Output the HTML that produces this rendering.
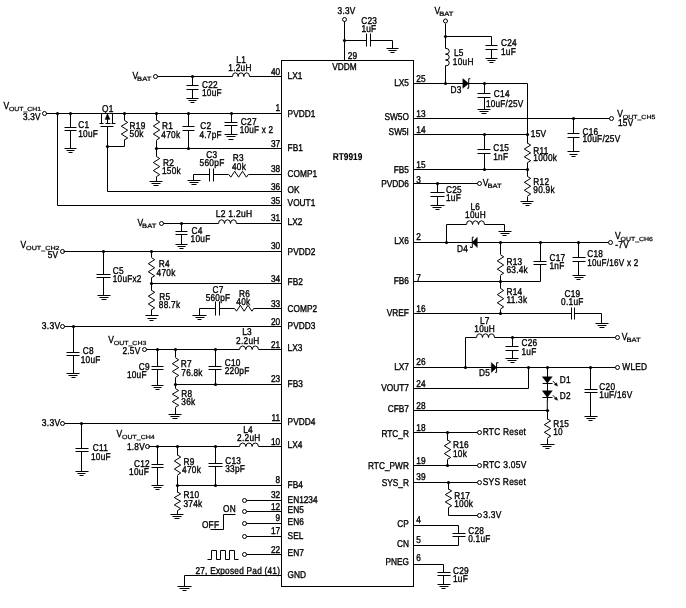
<!DOCTYPE html>
<html><head><meta charset="utf-8"><title>RT9919 Typical Application Circuit</title>
<style>
html,body{margin:0;padding:0;background:#fff}
svg{display:block;will-change:transform}
svg path{stroke:#000;fill:none;stroke-width:1}
svg .f{fill:#000;stroke:none}
svg path.f{fill:#000;stroke:#000;stroke-width:.4}
svg .t{fill:#fff;stroke:#000;stroke-width:1}
svg text{font-family:"Liberation Sans",sans-serif;font-size:8.3px;fill:#000;stroke:#000;stroke-width:.3px;text-rendering:geometricPrecision;letter-spacing:.25px}
svg text.b{font-weight:bold;letter-spacing:0;stroke-width:.1px}
svg text.i{letter-spacing:0}
</style></head><body>
<svg width="686" height="608" viewBox="0 0 686 608">
<rect x="0" y="0" width="686" height="608" fill="#fff"/>
<rect x="281.5" y="60.5" width="132.0" height="526.0" class="t"/>
<text transform="translate(287.6,78.8) scale(1,1.19)" class="i">LX1</text>
<text transform="translate(287.6,116.8) scale(1,1.19)" class="i">PVDD1</text>
<text transform="translate(287.6,150.8) scale(1,1.19)" class="i">FB1</text>
<text transform="translate(287.6,176.6) scale(1,1.19)" class="i">COMP1</text>
<text transform="translate(287.6,192.7) scale(1,1.19)" class="i">OK</text>
<text transform="translate(287.6,206.2) scale(1,1.19)" class="i">VOUT1</text>
<text transform="translate(287.6,224.8) scale(1,1.19)" class="i">LX2</text>
<text transform="translate(287.6,254.7) scale(1,1.19)" class="i">PVDD2</text>
<text transform="translate(287.6,284.6) scale(1,1.19)" class="i">FB2</text>
<text transform="translate(287.6,311.8) scale(1,1.19)" class="i">COMP2</text>
<text transform="translate(287.6,328.5) scale(1,1.19)" class="i">PVDD3</text>
<text transform="translate(287.6,351.4) scale(1,1.19)" class="i">LX3</text>
<text transform="translate(287.6,386.7) scale(1,1.19)" class="i">FB3</text>
<text transform="translate(287.6,425.4) scale(1,1.19)" class="i">PVDD4</text>
<text transform="translate(287.6,448.4) scale(1,1.19)" class="i">LX4</text>
<text transform="translate(287.6,488.3) scale(1,1.19)" class="i">FB4</text>
<text transform="translate(287.6,502.6) scale(1,1.19)" class="i">EN1234</text>
<text transform="translate(287.6,513.3) scale(1,1.19)" class="i">EN5</text>
<text transform="translate(287.6,525.2) scale(1,1.19)" class="i">EN6</text>
<text transform="translate(287.6,538.5) scale(1,1.19)" class="i">SEL</text>
<text transform="translate(287.6,556.4) scale(1,1.19)" class="i">EN7</text>
<text transform="translate(287.6,578.2) scale(1,1.19)" class="i">GND</text>
<text transform="translate(408.9,85.8) scale(1,1.19)" text-anchor="end" class="i">LX5</text>
<text transform="translate(408.9,120.4) scale(1,1.19)" text-anchor="end" class="i">SW5O</text>
<text transform="translate(408.9,135.3) scale(1,1.19)" text-anchor="end" class="i">SW5I</text>
<text transform="translate(408.9,172.9) scale(1,1.19)" text-anchor="end" class="i">FB5</text>
<text transform="translate(408.9,186.9) scale(1,1.19)" text-anchor="end" class="i">PVDD6</text>
<text transform="translate(408.9,243.7) scale(1,1.19)" text-anchor="end" class="i">LX6</text>
<text transform="translate(408.9,283.9) scale(1,1.19)" text-anchor="end" class="i">FB6</text>
<text transform="translate(408.9,315.9) scale(1,1.19)" text-anchor="end" class="i">VREF</text>
<text transform="translate(408.9,369.6) scale(1,1.19)" text-anchor="end" class="i">LX7</text>
<text transform="translate(408.9,390.8) scale(1,1.19)" text-anchor="end" class="i">VOUT7</text>
<text transform="translate(408.9,412.3) scale(1,1.19)" text-anchor="end" class="i">CFB7</text>
<text transform="translate(408.9,436.5) scale(1,1.19)" text-anchor="end" class="i">RTC_R</text>
<text transform="translate(408.9,469.2) scale(1,1.19)" text-anchor="end" class="i">RTC_PWR</text>
<text transform="translate(408.9,485.5) scale(1,1.19)" text-anchor="end" class="i">SYS_R</text>
<text transform="translate(408.9,527.3) scale(1,1.19)" text-anchor="end" class="i">CP</text>
<text transform="translate(408.9,547.4) scale(1,1.19)" text-anchor="end" class="i">CN</text>
<text transform="translate(408.9,565.4) scale(1,1.19)" text-anchor="end" class="i">PNEG</text>
<text transform="translate(347.5,159.7) scale(1,1.19)" text-anchor="middle" class="b">RT9919</text>
<text transform="translate(344.5,69.6) scale(1,1.19)" text-anchor="middle" class="i">VDDM</text>
<text transform="translate(280.2,75.0) scale(1,1.19)" text-anchor="end" class="i">40</text>
<text transform="translate(280.2,111.4) scale(1,1.19)" text-anchor="end" class="i">1</text>
<text transform="translate(280.2,146.8) scale(1,1.19)" text-anchor="end" class="i">37</text>
<text transform="translate(280.2,171.8) scale(1,1.19)" text-anchor="end" class="i">38</text>
<text transform="translate(280.2,189.7) scale(1,1.19)" text-anchor="end" class="i">36</text>
<text transform="translate(280.2,203.5) scale(1,1.19)" text-anchor="end" class="i">35</text>
<text transform="translate(280.2,220.7) scale(1,1.19)" text-anchor="end" class="i">31</text>
<text transform="translate(280.2,249.4) scale(1,1.19)" text-anchor="end" class="i">30</text>
<text transform="translate(280.2,281.5) scale(1,1.19)" text-anchor="end" class="i">34</text>
<text transform="translate(280.2,307.3) scale(1,1.19)" text-anchor="end" class="i">33</text>
<text transform="translate(280.2,324.6) scale(1,1.19)" text-anchor="end" class="i">20</text>
<text transform="translate(280.2,347.5) scale(1,1.19)" text-anchor="end" class="i">21</text>
<text transform="translate(280.2,382.1) scale(1,1.19)" text-anchor="end" class="i">23</text>
<text transform="translate(280.2,420.8) scale(1,1.19)" text-anchor="end" class="i">11</text>
<text transform="translate(280.2,444.8) scale(1,1.19)" text-anchor="end" class="i">10</text>
<text transform="translate(280.2,483.4) scale(1,1.19)" text-anchor="end" class="i">8</text>
<text transform="translate(280.2,498.0) scale(1,1.19)" text-anchor="end" class="i">32</text>
<text transform="translate(280.2,509.5) scale(1,1.19)" text-anchor="end" class="i">12</text>
<text transform="translate(280.2,521.2) scale(1,1.19)" text-anchor="end" class="i">9</text>
<text transform="translate(280.2,534.2) scale(1,1.19)" text-anchor="end" class="i">17</text>
<text transform="translate(280.2,552.8) scale(1,1.19)" text-anchor="end" class="i">22</text>
<text transform="translate(416.3,81.7) scale(1,1.19)" class="i">25</text>
<text transform="translate(416.3,116.8) scale(1,1.19)" class="i">13</text>
<text transform="translate(416.3,132.5) scale(1,1.19)" class="i">14</text>
<text transform="translate(416.3,167.6) scale(1,1.19)" class="i">15</text>
<text transform="translate(416.3,182.6) scale(1,1.19)" class="i">3</text>
<text transform="translate(416.3,239.7) scale(1,1.19)" class="i">2</text>
<text transform="translate(416.3,280.5) scale(1,1.19)" class="i">7</text>
<text transform="translate(416.3,311.6) scale(1,1.19)" class="i">16</text>
<text transform="translate(416.3,364.8) scale(1,1.19)" class="i">26</text>
<text transform="translate(416.3,386.8) scale(1,1.19)" class="i">24</text>
<text transform="translate(416.3,409.0) scale(1,1.19)" class="i">28</text>
<text transform="translate(416.3,431.0) scale(1,1.19)" class="i">18</text>
<text transform="translate(416.3,463.6) scale(1,1.19)" class="i">19</text>
<text transform="translate(416.3,479.6) scale(1,1.19)" class="i">39</text>
<text transform="translate(416.3,522.8) scale(1,1.19)" class="i">4</text>
<text transform="translate(416.3,543.3) scale(1,1.19)" class="i">5</text>
<text transform="translate(416.3,561.1) scale(1,1.19)" class="i">6</text>
<text transform="translate(347.8,58.7) scale(1,1.19)" class="i">29</text>
<text transform="translate(346.6,14.4) scale(1,1.19)" text-anchor="middle" textLength="18.0" lengthAdjust="spacingAndGlyphs">3.3V</text>
<circle cx="344.5" cy="19.5" r="2.0" class="t"/>
<path d="M344.5,21.5 L344.5,60.5" stroke-width="1"/>
<circle cx="344.5" cy="40.5" r="1.6" class="f"/>
<path d="M344.5,40.5 L366.5,40.5" stroke-width="1"/>
<path d="M366.5,33.5 L366.5,46.5" stroke-width="1"/>
<path d="M370.5,33.5 L370.5,46.5" stroke-width="1"/>
<path d="M370.5,40.5 L392.5,40.5 L392.5,48.5" stroke-width="1"/>
<path d="M386.5,48.5 L398.5,48.5" stroke-width="1"/>
<path d="M388.5,50.5 L396.5,50.5" stroke-width="1"/>
<path d="M390.5,52.5 L394.5,52.5" stroke-width="1"/>
<text transform="translate(369.2,23.9) scale(1,1.19)" text-anchor="middle">C23</text>
<text transform="translate(368.9,32.3) scale(1,1.19)" text-anchor="middle">1uF</text>
<circle cx="155.5" cy="76.5" r="2.0" class="t"/>
<path d="M157.5,76.5 L232.5,76.5" stroke-width="1"/>
<path d="M232.5,76.5 a2.83,3.7 0 0 1 5.67,0 a2.83,3.7 0 0 1 5.67,0 a2.83,3.7 0 0 1 5.67,0"/>
<path d="M249.5,76.5 L281.5,76.5" stroke-width="1"/>
<circle cx="192.5" cy="76.5" r="1.6" class="f"/>
<path d="M192.5,76.5 L192.5,85.5" stroke-width="1"/>
<path d="M186.5,85.5 L198.5,85.5" stroke-width="1"/>
<path d="M186.5,89.5 L198.5,89.5" stroke-width="1"/>
<path d="M192.5,89.5 L192.5,98.5" stroke-width="1"/>
<path d="M186.5,98.5 L198.5,98.5" stroke-width="1"/>
<path d="M188.5,100.5 L196.5,100.5" stroke-width="1"/>
<path d="M190.5,102.5 L194.5,102.5" stroke-width="1"/>
<text transform="translate(132.4,79.2) scale(1,1.19)" style="font-size:8.5px">V</text>
<text transform="translate(137.1,81.1)" style="font-size:6.3px;stroke-width:.22px;letter-spacing:0" textLength="14.2" lengthAdjust="spacingAndGlyphs">BAT</text>
<text transform="translate(241.2,63.2) scale(1,1.19)" text-anchor="middle">L1</text>
<text transform="translate(240.0,71.3) scale(1,1.19)" text-anchor="middle">1.2uH</text>
<text transform="translate(201.9,87.5) scale(1,1.19)">C22</text>
<text transform="translate(201.9,96.3) scale(1,1.19)">10uF</text>
<circle cx="44.5" cy="113.5" r="2.0" class="t"/>
<path d="M46.5,113.5 L281.5,113.5" stroke-width="1"/>
<circle cx="57.5" cy="113.5" r="1.6" class="f"/>
<circle cx="70.5" cy="113.5" r="1.6" class="f"/>
<circle cx="124.5" cy="113.5" r="1.6" class="f"/>
<circle cx="156.5" cy="113.5" r="1.6" class="f"/>
<circle cx="188.5" cy="113.5" r="1.6" class="f"/>
<circle cx="231.5" cy="113.5" r="1.6" class="f"/>
<path d="M57.5,113.5 L57.5,205.5 L281.5,205.5" stroke-width="1"/>
<path d="M70.5,113.5 L70.5,127.5" stroke-width="1"/>
<path d="M64.5,127.5 L76.5,127.5" stroke-width="1"/>
<path d="M64.5,130.5 L76.5,130.5" stroke-width="1"/>
<path d="M70.5,130.5 L70.5,148.5" stroke-width="1"/>
<path d="M64.5,148.5 L76.5,148.5" stroke-width="1"/>
<path d="M66.5,150.5 L74.5,150.5" stroke-width="1"/>
<path d="M68.5,152.5 L72.5,152.5" stroke-width="1"/>
<path d="M101.5,113.5 L101.5,123.5" stroke-width="1"/>
<path d="M112.5,113.5 L112.5,123.5" stroke-width="1"/>
<path d="M99.5,123.5 L103.5,123.5" stroke-width="1"/>
<path d="M105.5,123.5 L110.5,123.5" stroke-width="1"/>
<path d="M111.5,123.5 L115.5,123.5" stroke-width="1"/>
<path d="M107.5,113.5 L107.5,123.5" stroke-width="1"/>
<path d="M107.5,113.6 L105,119.4 L110,119.4 Z" class="f"/>
<path d="M100.5,126.5 L113.5,126.5" stroke-width="1"/>
<path d="M107.5,126.5 L107.5,191.5 L281.5,191.5" stroke-width="1"/>
<circle cx="107.5" cy="146.5" r="1.6" class="f"/>
<path d="M124.5,113.5 L124.5,120.5" stroke-width="1"/>
<path d="M124.5,120.4 L127.7,122.4 L121.3,126.2 L127.7,130.2 L121.3,134.1 L127.7,138.0 L124.5,139.9" stroke-width="1"/>
<path d="M124.5,139.5 L124.5,146.5 L107.5,146.5" stroke-width="1"/>
<path d="M156.5,113.5 L156.5,120.5" stroke-width="1"/>
<path d="M156.5,120.0 L159.7,122.0 L153.3,126.0 L159.7,130.0 L153.3,134.0 L159.7,138.0 L156.5,140.0" stroke-width="1"/>
<path d="M156.5,140.5 L156.5,156.5" stroke-width="1"/>
<path d="M156.5,156.5 L159.7,158.5 L153.3,162.5 L159.7,166.6 L153.3,170.6 L159.7,174.6 L156.5,176.6" stroke-width="1"/>
<path d="M156.5,176.5 L156.5,181.5" stroke-width="1"/>
<path d="M149.5,181.5 L162.5,181.5" stroke-width="1"/>
<path d="M151.5,183.5 L160.5,183.5" stroke-width="1"/>
<path d="M153.5,185.5 L158.5,185.5" stroke-width="1"/>
<circle cx="156.5" cy="148.5" r="1.6" class="f"/>
<circle cx="188.5" cy="148.5" r="1.6" class="f"/>
<path d="M156.5,148.5 L281.5,148.5" stroke-width="1"/>
<path d="M188.5,113.5 L188.5,126.5" stroke-width="1"/>
<path d="M182.5,126.5 L194.5,126.5" stroke-width="1"/>
<path d="M182.5,130.5 L194.5,130.5" stroke-width="1"/>
<path d="M188.5,130.5 L188.5,148.5" stroke-width="1"/>
<path d="M231.5,113.5 L231.5,122.5" stroke-width="1"/>
<path d="M224.5,122.5 L237.5,122.5" stroke-width="1"/>
<path d="M224.5,125.5 L237.5,125.5" stroke-width="1"/>
<path d="M231.5,125.5 L231.5,134.5" stroke-width="1"/>
<path d="M224.5,134.5 L237.5,134.5" stroke-width="1"/>
<path d="M226.5,136.5 L235.5,136.5" stroke-width="1"/>
<path d="M228.5,139.5 L233.5,139.5" stroke-width="1"/>
<text transform="translate(3.5,108.8) scale(1,1.19)" style="font-size:8.5px">V</text>
<text transform="translate(9.0,110.6)" style="font-size:5.9px;stroke-width:.22px;letter-spacing:0" textLength="32.0" lengthAdjust="spacingAndGlyphs">OUT_CH1</text>
<text transform="translate(40.8,120.0) scale(1,1.19)" text-anchor="end" textLength="17.9" lengthAdjust="spacingAndGlyphs">3.3V</text>
<text transform="translate(78.2,128.3) scale(1,1.19)">C1</text>
<text transform="translate(78.2,136.7) scale(1,1.19)">10uF</text>
<text transform="translate(102.0,111.6) scale(1,1.19)">Q1</text>
<text transform="translate(129.6,128.5) scale(1,1.19)">R19</text>
<text transform="translate(129.6,137.2) scale(1,1.19)">50k</text>
<text transform="translate(162.0,128.9) scale(1,1.19)">R1</text>
<text transform="translate(161.3,137.9) scale(1,1.19)">470k</text>
<text transform="translate(200.2,128.9) scale(1,1.19)">C2</text>
<text transform="translate(199.4,137.9) scale(1,1.19)">4.7pF</text>
<text transform="translate(240.8,125.4) scale(1,1.19)">C27</text>
<text transform="translate(239.8,133.0) scale(1,1.19)" textLength="33.6" lengthAdjust="spacingAndGlyphs">10uF x 2</text>
<text transform="translate(163.0,165.6) scale(1,1.19)">R2</text>
<text transform="translate(162.0,173.7) scale(1,1.19)">150k</text>
<path d="M281.5,174.5 L248.5,174.5" stroke-width="1"/>
<path d="M228.8,174.5 L230.8,177.2 L234.7,171.3 L238.6,177.2 L242.5,171.3 L246.4,177.2 L248.3,174.5" stroke-width="1"/>
<path d="M228.5,174.5 L213.5,174.5" stroke-width="1"/>
<path d="M209.5,168.5 L209.5,181.5" stroke-width="1"/>
<path d="M213.5,168.5 L213.5,181.5" stroke-width="1"/>
<path d="M209.5,174.5 L193.5,174.5 L193.5,180.5" stroke-width="1"/>
<path d="M187.5,180.5 L200.5,180.5" stroke-width="1"/>
<path d="M189.5,182.5 L198.5,182.5" stroke-width="1"/>
<path d="M191.5,184.5 L196.5,184.5" stroke-width="1"/>
<text transform="translate(211.7,157.6) scale(1,1.19)" text-anchor="middle">C3</text>
<text transform="translate(212.0,165.7) scale(1,1.19)" text-anchor="middle" textLength="25.0" lengthAdjust="spacingAndGlyphs">560pF</text>
<text transform="translate(238.4,160.7) scale(1,1.19)" text-anchor="middle">R3</text>
<text transform="translate(239.0,169.5) scale(1,1.19)" text-anchor="middle">40k</text>
<circle cx="161.5" cy="223.5" r="2.0" class="t"/>
<path d="M163.5,223.5 L218.5,223.5" stroke-width="1"/>
<path d="M218.5,223.5 a3.00,3.7 0 0 1 6.00,0 a3.00,3.7 0 0 1 6.00,0 a3.00,3.7 0 0 1 6.00,0"/>
<path d="M236.5,223.5 L281.5,223.5" stroke-width="1"/>
<circle cx="181.5" cy="223.5" r="1.6" class="f"/>
<path d="M181.5,223.5 L181.5,231.5" stroke-width="1"/>
<path d="M175.5,231.5 L187.5,231.5" stroke-width="1"/>
<path d="M175.5,234.5 L187.5,234.5" stroke-width="1"/>
<path d="M181.5,234.5 L181.5,244.5" stroke-width="1"/>
<path d="M175.5,244.5 L187.5,244.5" stroke-width="1"/>
<path d="M177.5,246.5 L185.5,246.5" stroke-width="1"/>
<path d="M179.5,248.5 L183.5,248.5" stroke-width="1"/>
<text transform="translate(137.4,225.9) scale(1,1.19)" style="font-size:8.5px">V</text>
<text transform="translate(142.1,227.8)" style="font-size:6.3px;stroke-width:.22px;letter-spacing:0" textLength="14.2" lengthAdjust="spacingAndGlyphs">BAT</text>
<text transform="translate(215.7,217.1) scale(1,1.19)" textLength="36.6" lengthAdjust="spacingAndGlyphs">L2 1.2uH</text>
<text transform="translate(191.4,234.0) scale(1,1.19)">C4</text>
<text transform="translate(190.6,242.4) scale(1,1.19)">10uF</text>
<circle cx="62.5" cy="251.5" r="2.0" class="t"/>
<path d="M63.5,251.5 L281.5,251.5" stroke-width="1"/>
<circle cx="103.5" cy="251.5" r="1.6" class="f"/>
<circle cx="151.5" cy="251.5" r="1.6" class="f"/>
<path d="M103.5,251.5 L103.5,274.5" stroke-width="1"/>
<path d="M96.5,274.5 L110.5,274.5" stroke-width="1"/>
<path d="M96.5,277.5 L110.5,277.5" stroke-width="1"/>
<path d="M103.5,277.5 L103.5,295.5" stroke-width="1"/>
<path d="M97.5,295.5 L110.5,295.5" stroke-width="1"/>
<path d="M99.5,297.5 L108.5,297.5" stroke-width="1"/>
<path d="M101.5,299.5 L106.5,299.5" stroke-width="1"/>
<path d="M151.5,251.5 L151.5,257.5" stroke-width="1"/>
<path d="M151.5,257.7 L154.7,259.7 L148.3,263.7 L154.7,267.8 L148.3,271.8 L154.7,275.8 L151.5,277.8" stroke-width="1"/>
<path d="M151.5,277.5 L151.5,290.5" stroke-width="1"/>
<path d="M151.5,290.3 L154.7,292.3 L148.3,296.2 L154.7,300.1 L148.3,304.0 L154.7,307.9 L151.5,309.9" stroke-width="1"/>
<path d="M151.5,309.5 L151.5,315.5" stroke-width="1"/>
<path d="M145.5,315.5 L158.5,315.5" stroke-width="1"/>
<path d="M147.5,318.5 L156.5,318.5" stroke-width="1"/>
<path d="M149.5,320.5 L153.5,320.5" stroke-width="1"/>
<circle cx="151.5" cy="283.5" r="1.6" class="f"/>
<path d="M151.5,283.5 L281.5,283.5" stroke-width="1"/>
<text transform="translate(20.6,247.7) scale(1,1.19)" style="font-size:8.5px">V</text>
<text transform="translate(26.1,249.5)" style="font-size:5.9px;stroke-width:.22px;letter-spacing:0" textLength="33.5" lengthAdjust="spacingAndGlyphs">OUT_CH2</text>
<text transform="translate(58.3,258.0) scale(1,1.19)" text-anchor="end">5V</text>
<text transform="translate(112.8,274.4) scale(1,1.19)">C5</text>
<text transform="translate(112.8,282.2) scale(1,1.19)" textLength="28.9" lengthAdjust="spacingAndGlyphs">10uFx2</text>
<text transform="translate(158.7,266.8) scale(1,1.19)">R4</text>
<text transform="translate(156.6,275.7) scale(1,1.19)">470k</text>
<text transform="translate(159.3,299.7) scale(1,1.19)">R5</text>
<text transform="translate(158.8,308.0) scale(1,1.19)">88.7k</text>
<path d="M281.5,308.5 L253.5,308.5" stroke-width="1"/>
<path d="M234.6,308.5 L236.5,311.2 L240.4,305.3 L244.2,311.2 L248.0,305.3 L251.9,311.2 L253.8,308.5" stroke-width="1"/>
<path d="M234.5,308.5 L219.5,308.5" stroke-width="1"/>
<path d="M215.5,301.5 L215.5,315.5" stroke-width="1"/>
<path d="M219.5,301.5 L219.5,315.5" stroke-width="1"/>
<path d="M215.5,308.5 L199.5,308.5 L199.5,315.5" stroke-width="1"/>
<path d="M192.5,315.5 L206.5,315.5" stroke-width="1"/>
<path d="M195.5,317.5 L204.5,317.5" stroke-width="1"/>
<path d="M197.5,319.5 L201.5,319.5" stroke-width="1"/>
<text transform="translate(218.1,292.8) scale(1,1.19)" text-anchor="middle">C7</text>
<text transform="translate(218.0,301.2) scale(1,1.19)" text-anchor="middle" textLength="24.6" lengthAdjust="spacingAndGlyphs">560pF</text>
<text transform="translate(244.6,296.6) scale(1,1.19)" text-anchor="middle">R6</text>
<text transform="translate(243.4,305.1) scale(1,1.19)" text-anchor="middle">40k</text>
<circle cx="62.5" cy="326.5" r="2.0" class="t"/>
<path d="M64.5,326.5 L281.5,326.5" stroke-width="1"/>
<circle cx="73.5" cy="326.5" r="1.6" class="f"/>
<path d="M73.5,326.5 L73.5,352.5" stroke-width="1"/>
<path d="M66.5,352.5 L79.5,352.5" stroke-width="1"/>
<path d="M66.5,355.5 L79.5,355.5" stroke-width="1"/>
<path d="M73.5,355.5 L73.5,373.5" stroke-width="1"/>
<path d="M66.5,373.5 L79.5,373.5" stroke-width="1"/>
<path d="M68.5,375.5 L77.5,375.5" stroke-width="1"/>
<path d="M71.5,377.5 L75.5,377.5" stroke-width="1"/>
<text transform="translate(60.4,328.5) scale(1,1.19)" text-anchor="end" textLength="18.6" lengthAdjust="spacingAndGlyphs">3.3V</text>
<text transform="translate(82.7,354.0) scale(1,1.19)">C8</text>
<text transform="translate(80.7,362.7) scale(1,1.19)">10uF</text>
<circle cx="144.5" cy="349.5" r="2.0" class="t"/>
<path d="M146.5,349.5 L239.5,349.5" stroke-width="1"/>
<path d="M239.5,349.5 a3.17,3.7 0 0 1 6.33,0 a3.17,3.7 0 0 1 6.33,0 a3.17,3.7 0 0 1 6.33,0"/>
<path d="M258.5,349.5 L281.5,349.5" stroke-width="1"/>
<circle cx="157.5" cy="349.5" r="1.6" class="f"/>
<circle cx="175.5" cy="349.5" r="1.6" class="f"/>
<circle cx="215.5" cy="349.5" r="1.6" class="f"/>
<path d="M157.5,349.5 L157.5,366.5" stroke-width="1"/>
<path d="M151.5,366.5 L163.5,366.5" stroke-width="1"/>
<path d="M151.5,369.5 L163.5,369.5" stroke-width="1"/>
<path d="M157.5,369.5 L157.5,385.5" stroke-width="1"/>
<path d="M151.5,385.5 L163.5,385.5" stroke-width="1"/>
<path d="M153.5,387.5 L161.5,387.5" stroke-width="1"/>
<path d="M155.5,389.5 L159.5,389.5" stroke-width="1"/>
<path d="M175.5,349.5 L175.5,357.5" stroke-width="1"/>
<path d="M175.5,357.8 L178.7,359.8 L172.3,363.7 L178.7,367.6 L172.3,371.5 L178.7,375.4 L175.5,377.4" stroke-width="1"/>
<path d="M175.5,377.5 L175.5,388.5" stroke-width="1"/>
<path d="M175.5,388.6 L178.7,390.5 L172.3,394.2 L178.7,397.9 L172.3,401.6 L178.7,405.3 L175.5,407.2" stroke-width="1"/>
<path d="M175.5,407.5 L175.5,414.5" stroke-width="1"/>
<path d="M168.5,414.5 L181.5,414.5" stroke-width="1"/>
<path d="M170.5,416.5 L179.5,416.5" stroke-width="1"/>
<path d="M172.5,418.5 L177.5,418.5" stroke-width="1"/>
<circle cx="175.5" cy="384.5" r="1.6" class="f"/>
<circle cx="215.5" cy="384.5" r="1.6" class="f"/>
<path d="M175.5,384.5 L281.5,384.5" stroke-width="1"/>
<path d="M215.5,349.5 L215.5,366.5" stroke-width="1"/>
<path d="M208.5,366.5 L221.5,366.5" stroke-width="1"/>
<path d="M208.5,369.5 L221.5,369.5" stroke-width="1"/>
<path d="M215.5,369.5 L215.5,384.5" stroke-width="1"/>
<text transform="translate(108.3,343.1) scale(1,1.19)" style="font-size:8.5px">V</text>
<text transform="translate(113.8,344.9)" style="font-size:5.9px;stroke-width:.22px;letter-spacing:0" textLength="32.5" lengthAdjust="spacingAndGlyphs">OUT_CH3</text>
<text transform="translate(140.5,353.5) scale(1,1.19)" text-anchor="end">2.5V</text>
<text transform="translate(149.8,369.9) scale(1,1.19)" text-anchor="end">C9</text>
<text transform="translate(146.8,378.1) scale(1,1.19)" text-anchor="end">10uF</text>
<text transform="translate(180.8,367.3) scale(1,1.19)">R7</text>
<text transform="translate(181.3,376.1) scale(1,1.19)" textLength="21.4" lengthAdjust="spacingAndGlyphs">76.8k</text>
<text transform="translate(224.7,365.8) scale(1,1.19)">C10</text>
<text transform="translate(224.7,374.1) scale(1,1.19)">220pF</text>
<text transform="translate(181.3,397.1) scale(1,1.19)">R8</text>
<text transform="translate(181.3,405.4) scale(1,1.19)">36k</text>
<text transform="translate(247.0,335.2) scale(1,1.19)" text-anchor="middle">L3</text>
<text transform="translate(247.8,343.8) scale(1,1.19)" text-anchor="middle">2.2uH</text>
<circle cx="62.5" cy="423.5" r="2.0" class="t"/>
<path d="M64.5,423.5 L281.5,423.5" stroke-width="1"/>
<circle cx="81.5" cy="423.5" r="1.6" class="f"/>
<path d="M81.5,423.5 L81.5,448.5" stroke-width="1"/>
<path d="M75.5,448.5 L88.5,448.5" stroke-width="1"/>
<path d="M75.5,451.5 L88.5,451.5" stroke-width="1"/>
<path d="M81.5,451.5 L81.5,471.5" stroke-width="1"/>
<path d="M75.5,471.5 L88.5,471.5" stroke-width="1"/>
<path d="M77.5,473.5 L85.5,473.5" stroke-width="1"/>
<path d="M79.5,475.5 L83.5,475.5" stroke-width="1"/>
<text transform="translate(60.4,425.6) scale(1,1.19)" text-anchor="end" textLength="18.6" lengthAdjust="spacingAndGlyphs">3.3V</text>
<text transform="translate(92.8,451.0) scale(1,1.19)">C11</text>
<text transform="translate(91.0,459.8) scale(1,1.19)">10uF</text>
<circle cx="147.5" cy="446.5" r="2.0" class="t"/>
<path d="M148.5,446.5 L239.5,446.5" stroke-width="1"/>
<path d="M239.5,446.5 a3.17,3.7 0 0 1 6.33,0 a3.17,3.7 0 0 1 6.33,0 a3.17,3.7 0 0 1 6.33,0"/>
<path d="M258.5,446.5 L281.5,446.5" stroke-width="1"/>
<circle cx="157.5" cy="446.5" r="1.6" class="f"/>
<circle cx="177.5" cy="446.5" r="1.6" class="f"/>
<circle cx="215.5" cy="446.5" r="1.6" class="f"/>
<path d="M157.5,446.5 L157.5,464.5" stroke-width="1"/>
<path d="M151.5,464.5 L163.5,464.5" stroke-width="1"/>
<path d="M151.5,467.5 L163.5,467.5" stroke-width="1"/>
<path d="M157.5,467.5 L157.5,485.5" stroke-width="1"/>
<path d="M151.5,485.5 L163.5,485.5" stroke-width="1"/>
<path d="M153.5,487.5 L161.5,487.5" stroke-width="1"/>
<path d="M155.5,489.5 L159.5,489.5" stroke-width="1"/>
<path d="M177.5,446.5 L177.5,455.5" stroke-width="1"/>
<path d="M177.5,455.0 L180.7,457.0 L174.3,461.0 L180.7,465.0 L174.3,469.0 L180.7,473.0 L177.5,475.0" stroke-width="1"/>
<path d="M177.5,475.5 L177.5,492.5" stroke-width="1"/>
<path d="M177.5,492.0 L180.7,493.9 L174.3,497.6 L180.7,501.2 L174.3,504.9 L180.7,508.6 L177.5,510.5" stroke-width="1"/>
<path d="M177.5,510.5 L177.5,514.5" stroke-width="1"/>
<path d="M170.5,514.5 L183.5,514.5" stroke-width="1"/>
<path d="M172.5,516.5 L181.5,516.5" stroke-width="1"/>
<path d="M174.5,518.5 L179.5,518.5" stroke-width="1"/>
<circle cx="177.5" cy="485.5" r="1.6" class="f"/>
<circle cx="215.5" cy="485.5" r="1.6" class="f"/>
<path d="M177.5,485.5 L281.5,485.5" stroke-width="1"/>
<path d="M215.5,446.5 L215.5,463.5" stroke-width="1"/>
<path d="M208.5,463.5 L222.5,463.5" stroke-width="1"/>
<path d="M208.5,466.5 L222.5,466.5" stroke-width="1"/>
<path d="M215.5,466.5 L215.5,485.5" stroke-width="1"/>
<text transform="translate(116.6,437.4) scale(1,1.19)" style="font-size:8.5px">V</text>
<text transform="translate(122.1,439.2)" style="font-size:5.9px;stroke-width:.22px;letter-spacing:0" textLength="32.5" lengthAdjust="spacingAndGlyphs">OUT_CH4</text>
<text transform="translate(145.0,450.3) scale(1,1.19)" text-anchor="end">1.8V</text>
<text transform="translate(150.0,467.4) scale(1,1.19)" text-anchor="end">C12</text>
<text transform="translate(149.0,475.3) scale(1,1.19)" text-anchor="end">10uF</text>
<text transform="translate(183.4,465.3) scale(1,1.19)">R9</text>
<text transform="translate(182.1,473.3) scale(1,1.19)">470k</text>
<text transform="translate(225.2,463.8) scale(1,1.19)">C13</text>
<text transform="translate(225.2,472.3) scale(1,1.19)">33pF</text>
<text transform="translate(183.4,498.4) scale(1,1.19)">R10</text>
<text transform="translate(183.4,506.7) scale(1,1.19)">374k</text>
<text transform="translate(248.0,432.9) scale(1,1.19)" text-anchor="middle">L4</text>
<text transform="translate(248.8,441.2) scale(1,1.19)" text-anchor="middle">2.2uH</text>
<circle cx="244.5" cy="500.5" r="2.0" class="t"/>
<path d="M246.5,500.5 L281.5,500.5" stroke-width="1"/>
<circle cx="244.5" cy="511.5" r="2.0" class="t"/>
<path d="M246.5,511.5 L281.5,511.5" stroke-width="1"/>
<circle cx="244.5" cy="523.5" r="2.0" class="t"/>
<path d="M246.5,523.5 L281.5,523.5" stroke-width="1"/>
<circle cx="244.5" cy="536.5" r="2.0" class="t"/>
<path d="M246.5,536.5 L281.5,536.5" stroke-width="1"/>
<circle cx="244.5" cy="554.5" r="2.0" class="t"/>
<path d="M246.5,554.5 L281.5,554.5" stroke-width="1"/>
<path d="M210.5,529.5 L223.5,529.5 L223.5,514.5 L235.5,514.5" stroke-width="1"/>
<text transform="translate(223.0,512.4) scale(1,1.19)">ON</text>
<text transform="translate(201.9,527.7) scale(1,1.19)">OFF</text>
<path d="M207.5,559.5 L211.5,559.5 L211.5,550.5 L216.5,550.5 L216.5,559.5 L220.5,559.5 L220.5,550.5 L225.5,550.5 L225.5,559.5 L229.5,559.5 L229.5,550.5 L234.5,550.5 L234.5,559.5 L238.5,559.5" stroke-width="1"/>
<path d="M281.5,575.5 L184.5,575.5 L184.5,586.5" stroke-width="1"/>
<path d="M177.5,586.5 L191.5,586.5" stroke-width="1"/>
<path d="M179.5,588.5 L189.5,588.5" stroke-width="1"/>
<path d="M182.5,590.5 L186.5,590.5" stroke-width="1"/>
<text transform="translate(195.4,573.8) scale(1,1.19)" textLength="84.8" lengthAdjust="spacingAndGlyphs">27, Exposed Pad (41)</text>
<text transform="translate(434.6,14.4) scale(1,1.19)" style="font-size:8.5px">V</text>
<text transform="translate(439.3,16.3)" style="font-size:6.3px;stroke-width:.22px;letter-spacing:0" textLength="14.2" lengthAdjust="spacingAndGlyphs">BAT</text>
<circle cx="445.5" cy="21.0" r="2.0" class="t"/>
<path d="M445.5,23.5 L445.5,48.5" stroke-width="1"/>
<path d="M445.5,48.3 a3.8,2.93 0 0 1 0,5.87 a3.8,2.93 0 0 1 0,5.87 a3.8,2.93 0 0 1 0,5.87"/>
<path d="M445.5,65.5 L445.5,83.5" stroke-width="1"/>
<circle cx="445.5" cy="36.5" r="1.6" class="f"/>
<path d="M445.5,36.5 L491.5,36.5 L491.5,45.5" stroke-width="1"/>
<path d="M485.5,45.5 L497.5,45.5" stroke-width="1"/>
<path d="M485.5,49.5 L497.5,49.5" stroke-width="1"/>
<path d="M491.5,49.5 L491.5,58.5" stroke-width="1"/>
<path d="M485.5,58.5 L497.5,58.5" stroke-width="1"/>
<path d="M487.5,60.5 L495.5,60.5" stroke-width="1"/>
<path d="M489.5,62.5 L493.5,62.5" stroke-width="1"/>
<text transform="translate(501.0,45.6) scale(1,1.19)">C24</text>
<text transform="translate(501.0,54.7) scale(1,1.19)">1uF</text>
<text transform="translate(454.0,55.9) scale(1,1.19)">L5</text>
<text transform="translate(452.8,64.7) scale(1,1.19)">10uH</text>
<path d="M413.5,83.5 L527.5,83.5 L527.5,143.5" stroke-width="1"/>
<circle cx="445.5" cy="83.5" r="1.6" class="f"/>
<circle cx="484.5" cy="83.5" r="1.6" class="f"/>
<path d="M462.8,78.6 L462.8,88.3 L468.8,83.5 Z" class="f"/>
<path d="M467.0,88.2 L468.7,88.2 L468.7,78.7 L470.3,78.7" stroke-width="1.1"/>
<text transform="translate(450.6,92.8) scale(1,1.19)">D3</text>
<path d="M484.5,83.5 L484.5,93.5" stroke-width="1"/>
<path d="M477.5,93.5 L490.5,93.5" stroke-width="1"/>
<path d="M477.5,97.5 L490.5,97.5" stroke-width="1"/>
<path d="M484.5,97.5 L484.5,109.5" stroke-width="1"/>
<path d="M477.5,109.5 L490.5,109.5" stroke-width="1"/>
<path d="M479.5,111.5 L488.5,111.5" stroke-width="1"/>
<path d="M481.5,113.5 L486.5,113.5" stroke-width="1"/>
<text transform="translate(493.8,97.3) scale(1,1.19)">C14</text>
<text transform="translate(485.9,107.1) scale(1,1.19)" textLength="37.6" lengthAdjust="spacingAndGlyphs">10uF/25V</text>
<path d="M413.5,118.5 L609.5,118.5" stroke-width="1"/>
<circle cx="611.5" cy="118.5" r="2.0" class="t"/>
<circle cx="573.5" cy="118.5" r="1.6" class="f"/>
<path d="M573.5,118.5 L573.5,133.5" stroke-width="1"/>
<path d="M567.5,133.5 L579.5,133.5" stroke-width="1"/>
<path d="M567.5,137.5 L579.5,137.5" stroke-width="1"/>
<path d="M573.5,137.5 L573.5,151.5" stroke-width="1"/>
<path d="M567.5,151.5 L579.5,151.5" stroke-width="1"/>
<path d="M569.5,154.5 L577.5,154.5" stroke-width="1"/>
<path d="M571.5,156.5 L575.5,156.5" stroke-width="1"/>
<text transform="translate(582.5,134.5) scale(1,1.19)">C16</text>
<text transform="translate(582.5,141.8) scale(1,1.19)" textLength="38.0" lengthAdjust="spacingAndGlyphs">10uF/25V</text>
<text transform="translate(617.3,116.8) scale(1,1.19)" style="font-size:8.5px">V</text>
<text transform="translate(622.8,118.6)" style="font-size:5.9px;stroke-width:.22px;letter-spacing:0" textLength="32.5" lengthAdjust="spacingAndGlyphs">OUT_CH5</text>
<text transform="translate(618.0,125.9) scale(1,1.19)">15V</text>
<path d="M413.5,134.5 L527.5,134.5" stroke-width="1"/>
<circle cx="484.5" cy="134.5" r="1.6" class="f"/>
<circle cx="527.5" cy="134.5" r="1.6" class="f"/>
<text transform="translate(530.8,137.2) scale(1,1.19)">15V</text>
<path d="M484.5,134.5 L484.5,149.5" stroke-width="1"/>
<path d="M477.5,149.5 L490.5,149.5" stroke-width="1"/>
<path d="M477.5,153.5 L490.5,153.5" stroke-width="1"/>
<path d="M484.5,153.5 L484.5,169.5" stroke-width="1"/>
<circle cx="484.5" cy="169.5" r="1.6" class="f"/>
<text transform="translate(493.2,151.3) scale(1,1.19)">C15</text>
<text transform="translate(493.2,160.4) scale(1,1.19)">1nF</text>
<path d="M527.5,143.1 L530.7,145.1 L524.3,149.0 L530.7,152.9 L524.3,156.8 L530.7,160.7 L527.5,162.7" stroke-width="1"/>
<path d="M527.5,162.5 L527.5,176.5" stroke-width="1"/>
<path d="M527.5,176.5 L530.7,178.4 L524.3,182.3 L530.7,186.2 L524.3,190.2 L530.7,194.1 L527.5,196.0" stroke-width="1"/>
<path d="M527.5,196.5 L527.5,201.5" stroke-width="1"/>
<path d="M520.5,201.5 L533.5,201.5" stroke-width="1"/>
<path d="M522.5,203.5 L531.5,203.5" stroke-width="1"/>
<path d="M525.5,205.5 L529.5,205.5" stroke-width="1"/>
<circle cx="527.5" cy="169.5" r="1.6" class="f"/>
<path d="M413.5,169.5 L527.5,169.5" stroke-width="1"/>
<text transform="translate(533.3,153.7) scale(1,1.19)">R11</text>
<text transform="translate(533.3,161.3) scale(1,1.19)">1000k</text>
<text transform="translate(533.3,184.5) scale(1,1.19)">R12</text>
<text transform="translate(533.3,192.5) scale(1,1.19)">90.9k</text>
<path d="M413.5,183.5 L477.5,183.5" stroke-width="1"/>
<circle cx="479.5" cy="183.5" r="2.0" class="t"/>
<circle cx="437.5" cy="183.5" r="1.6" class="f"/>
<path d="M437.5,183.5 L437.5,192.5" stroke-width="1"/>
<path d="M430.5,192.5 L444.5,192.5" stroke-width="1"/>
<path d="M430.5,196.5 L444.5,196.5" stroke-width="1"/>
<path d="M437.5,196.5 L437.5,205.5" stroke-width="1"/>
<path d="M430.5,205.5 L444.5,205.5" stroke-width="1"/>
<path d="M432.5,207.5 L441.5,207.5" stroke-width="1"/>
<path d="M435.5,209.5 L439.5,209.5" stroke-width="1"/>
<text transform="translate(445.9,192.8) scale(1,1.19)">C25</text>
<text transform="translate(445.9,201.3) scale(1,1.19)">1uF</text>
<text transform="translate(482.7,185.8) scale(1,1.19)" style="font-size:8.5px">V</text>
<text transform="translate(487.4,187.7)" style="font-size:6.3px;stroke-width:.22px;letter-spacing:0" textLength="14.2" lengthAdjust="spacingAndGlyphs">BAT</text>
<path d="M413.5,242.5 L608.5,242.5" stroke-width="1"/>
<circle cx="610.5" cy="242.5" r="2.0" class="t"/>
<circle cx="446.5" cy="242.5" r="1.6" class="f"/>
<circle cx="500.5" cy="242.5" r="1.6" class="f"/>
<circle cx="540.5" cy="242.5" r="1.6" class="f"/>
<circle cx="578.5" cy="242.5" r="1.6" class="f"/>
<path d="M446.5,242.5 L446.5,224.5 L466.5,224.5" stroke-width="1"/>
<path d="M466.5,224.5 a3.00,3.7 0 0 1 6.00,0 a3.00,3.7 0 0 1 6.00,0 a3.00,3.7 0 0 1 6.00,0"/>
<path d="M484.5,224.5 L504.5,224.5 L504.5,231.5" stroke-width="1"/>
<path d="M498.5,231.5 L511.5,231.5" stroke-width="1"/>
<path d="M500.5,233.5 L509.5,233.5" stroke-width="1"/>
<path d="M502.5,235.5 L506.5,235.5" stroke-width="1"/>
<text transform="translate(475.3,209.7) scale(1,1.19)" text-anchor="middle">L6</text>
<text transform="translate(475.5,218.2) scale(1,1.19)" text-anchor="middle">10uH</text>
<path d="M477.3,237.3 L477.3,247.5 L472,242.4 Z" class="f"/>
<path d="M473.8,237.2 L472.3,237.2 L472.3,247.5 L470.4,247.5 L470.4,246.4" stroke-width="1.1"/>
<text transform="translate(457.0,251.7) scale(1,1.19)">D4</text>
<path d="M500.5,242.5 L500.5,254.5" stroke-width="1"/>
<path d="M500.5,254.8 L503.7,256.8 L497.3,260.9 L503.7,265.0 L497.3,269.1 L503.7,273.2 L500.5,275.2" stroke-width="1"/>
<path d="M500.5,275.5 L500.5,288.5" stroke-width="1"/>
<path d="M500.5,288.4 L503.7,290.5 L497.3,294.6 L503.7,298.7 L497.3,302.8 L503.7,306.9 L500.5,309.0" stroke-width="1"/>
<path d="M500.5,309.5 L500.5,313.5" stroke-width="1"/>
<circle cx="500.5" cy="281.5" r="1.6" class="f"/>
<circle cx="500.5" cy="313.5" r="1.6" class="f"/>
<path d="M413.5,281.5 L540.5,281.5 L540.5,264.5" stroke-width="1"/>
<path d="M533.5,261.5 L546.5,261.5" stroke-width="1"/>
<path d="M533.5,264.5 L546.5,264.5" stroke-width="1"/>
<path d="M540.5,242.5 L540.5,261.5" stroke-width="1"/>
<text transform="translate(506.4,264.8) scale(1,1.19)">R13</text>
<text transform="translate(506.4,273.0) scale(1,1.19)">63.4k</text>
<text transform="translate(549.5,261.3) scale(1,1.19)">C17</text>
<text transform="translate(549.5,268.7) scale(1,1.19)">1nF</text>
<text transform="translate(506.4,294.9) scale(1,1.19)">R14</text>
<text transform="translate(506.4,303.2) scale(1,1.19)">11.3k</text>
<path d="M578.5,242.5 L578.5,257.5" stroke-width="1"/>
<path d="M572.5,257.5 L585.5,257.5" stroke-width="1"/>
<path d="M572.5,261.5 L585.5,261.5" stroke-width="1"/>
<path d="M578.5,261.5 L578.5,275.5" stroke-width="1"/>
<path d="M572.5,275.5 L585.5,275.5" stroke-width="1"/>
<path d="M574.5,277.5 L583.5,277.5" stroke-width="1"/>
<path d="M576.5,279.5 L580.5,279.5" stroke-width="1"/>
<text transform="translate(587.2,256.8) scale(1,1.19)">C18</text>
<text transform="translate(587.2,266.0) scale(1,1.19)" textLength="51.4" lengthAdjust="spacingAndGlyphs">10uF/16V x 2</text>
<text transform="translate(615.0,238.8) scale(1,1.19)" style="font-size:8.5px">V</text>
<text transform="translate(620.5,240.6)" style="font-size:5.9px;stroke-width:.22px;letter-spacing:0" textLength="32.5" lengthAdjust="spacingAndGlyphs">OUT_CH6</text>
<text transform="translate(615.3,248.4) scale(1,1.19)">-7V</text>
<path d="M413.5,313.5 L571.5,313.5" stroke-width="1"/>
<path d="M571.5,307.5 L571.5,319.5" stroke-width="1"/>
<path d="M574.5,307.5 L574.5,319.5" stroke-width="1"/>
<path d="M574.5,313.5 L601.5,313.5 L601.5,323.5" stroke-width="1"/>
<path d="M595.5,323.5 L608.5,323.5" stroke-width="1"/>
<path d="M597.5,325.5 L606.5,325.5" stroke-width="1"/>
<path d="M599.5,327.5 L604.5,327.5" stroke-width="1"/>
<text transform="translate(572.5,296.5) scale(1,1.19)" text-anchor="middle">C19</text>
<text transform="translate(572.4,304.5) scale(1,1.19)" text-anchor="middle" textLength="22.6" lengthAdjust="spacingAndGlyphs">0.1uF</text>
<path d="M413.5,367.5 L615.5,367.5" stroke-width="1"/>
<circle cx="617.5" cy="367.5" r="2.0" class="t"/>
<circle cx="465.5" cy="367.5" r="1.6" class="f"/>
<circle cx="528.5" cy="367.5" r="1.6" class="f"/>
<circle cx="547.5" cy="367.5" r="1.6" class="f"/>
<circle cx="590.5" cy="367.5" r="1.6" class="f"/>
<path d="M465.5,367.5 L465.5,337.5 L476.5,337.5" stroke-width="1"/>
<path d="M476.5,337.5 a3.00,3.7 0 0 1 6.00,0 a3.00,3.7 0 0 1 6.00,0 a3.00,3.7 0 0 1 6.00,0"/>
<path d="M494.5,337.5 L615.5,337.5" stroke-width="1"/>
<circle cx="617.5" cy="337.5" r="2.0" class="t"/>
<circle cx="512.5" cy="337.5" r="1.6" class="f"/>
<path d="M512.5,337.5 L512.5,346.5" stroke-width="1"/>
<path d="M505.5,346.5 L518.5,346.5" stroke-width="1"/>
<path d="M505.5,350.5 L518.5,350.5" stroke-width="1"/>
<path d="M512.5,350.5 L512.5,358.5" stroke-width="1"/>
<path d="M505.5,358.5 L518.5,358.5" stroke-width="1"/>
<path d="M507.5,360.5 L516.5,360.5" stroke-width="1"/>
<path d="M510.5,362.5 L514.5,362.5" stroke-width="1"/>
<text transform="translate(521.4,346.4) scale(1,1.19)">C26</text>
<text transform="translate(521.4,354.6) scale(1,1.19)">1uF</text>
<text transform="translate(484.8,323.6) scale(1,1.19)" text-anchor="middle">L7</text>
<text transform="translate(484.7,332.2) scale(1,1.19)" text-anchor="middle">10uH</text>
<text transform="translate(621.8,340.4) scale(1,1.19)" style="font-size:8.5px">V</text>
<text transform="translate(626.5,342.3)" style="font-size:6.3px;stroke-width:.22px;letter-spacing:0" textLength="14.2" lengthAdjust="spacingAndGlyphs">BAT</text>
<text transform="translate(622.3,369.6) scale(1,1.19)">WLED</text>
<path d="M491.3,362.6 L491.3,372.4 L496.8,367.5 Z" class="f"/>
<path d="M495.0,372.3 L496.6,372.3 L496.6,362.7 L498.5,362.7" stroke-width="1.1"/>
<text transform="translate(479.0,375.7) scale(1,1.19)">D5</text>
<path d="M528.5,367.5 L528.5,388.5 L413.5,388.5" stroke-width="1"/>
<path d="M547.5,367.5 L547.5,400.5" stroke-width="1"/>
<path d="M542.3,376.7 L552.3,376.7 L547.3,383.2 Z" class="f"/>
<path d="M542.5,383.5 L552.5,383.5" stroke-width="1"/>
<path d="M542.3,390.7 L552.3,390.7 L547.3,397.4 Z" class="f"/>
<path d="M542.5,397.5 L552.5,397.5" stroke-width="1"/>
<path d="M547.3,399.5 L547.3,410.4" stroke-width="2.5"/>
<path d="M552.9,381.1 L556.3,384.7" stroke-width="1.3"/>
<path d="M557.7,386.1 l-3.4,-1.3 l2.1,-2.1 Z" class="f"/>
<path d="M552.9,395.3 L556.3,398.9" stroke-width="1.3"/>
<path d="M557.7,400.3 l-3.4,-1.3 l2.1,-2.1 Z" class="f"/>
<text transform="translate(559.8,382.8) scale(1,1.19)">D1</text>
<text transform="translate(559.8,398.9) scale(1,1.19)">D2</text>
<circle cx="547.5" cy="410.5" r="1.6" class="f"/>
<path d="M413.5,410.5 L547.5,410.5 L547.5,419.5" stroke-width="1"/>
<path d="M547.5,419.0 L550.7,420.9 L544.3,424.7 L550.7,428.5 L544.3,432.3 L550.7,436.1 L547.5,438.0" stroke-width="1"/>
<path d="M547.5,438.5 L547.5,444.5" stroke-width="1"/>
<path d="M540.5,444.5 L554.5,444.5" stroke-width="1"/>
<path d="M542.5,446.5 L551.5,446.5" stroke-width="1"/>
<path d="M545.5,448.5 L549.5,448.5" stroke-width="1"/>
<text transform="translate(553.2,426.6) scale(1,1.19)">R15</text>
<text transform="translate(553.2,435.1) scale(1,1.19)">10</text>
<path d="M590.5,367.5 L590.5,389.5" stroke-width="1"/>
<path d="M584.5,389.5 L597.5,389.5" stroke-width="1"/>
<path d="M584.5,392.5 L597.5,392.5" stroke-width="1"/>
<path d="M590.5,392.5 L590.5,416.5" stroke-width="1"/>
<path d="M584.5,416.5 L597.5,416.5" stroke-width="1"/>
<path d="M586.5,418.5 L595.5,418.5" stroke-width="1"/>
<path d="M588.5,420.5 L592.5,420.5" stroke-width="1"/>
<text transform="translate(599.3,390.0) scale(1,1.19)">C20</text>
<text transform="translate(599.3,398.1) scale(1,1.19)">1uF/16V</text>
<path d="M413.5,432.5 L477.5,432.5" stroke-width="1"/>
<circle cx="479.5" cy="432.5" r="2.0" class="t"/>
<circle cx="447.5" cy="432.5" r="1.6" class="f"/>
<path d="M413.5,465.5 L477.5,465.5" stroke-width="1"/>
<circle cx="479.5" cy="465.5" r="2.0" class="t"/>
<circle cx="447.5" cy="465.5" r="1.6" class="f"/>
<path d="M447.5,432.5 L447.5,440.5" stroke-width="1"/>
<path d="M447.5,440.0 L450.7,441.9 L444.3,445.8 L450.7,449.7 L444.3,453.6 L450.7,457.5 L447.5,459.4" stroke-width="1"/>
<path d="M447.5,459.5 L447.5,465.5" stroke-width="1"/>
<text transform="translate(452.9,448.4) scale(1,1.19)">R16</text>
<text transform="translate(452.9,456.6) scale(1,1.19)">10k</text>
<text transform="translate(482.7,435.3) scale(1,1.19)" textLength="43.4" lengthAdjust="spacingAndGlyphs">RTC Reset</text>
<text transform="translate(482.7,468.0) scale(1,1.19)" textLength="43.9" lengthAdjust="spacingAndGlyphs">RTC 3.05V</text>
<path d="M413.5,482.5 L477.5,482.5" stroke-width="1"/>
<circle cx="479.5" cy="482.5" r="2.0" class="t"/>
<circle cx="448.5" cy="482.5" r="1.6" class="f"/>
<text transform="translate(482.7,485.0) scale(1,1.19)" textLength="43.4" lengthAdjust="spacingAndGlyphs">SYS Reset</text>
<path d="M448.5,482.5 L448.5,489.5" stroke-width="1"/>
<path d="M448.5,489.0 L451.7,490.9 L445.3,494.6 L451.7,498.3 L445.3,502.0 L451.7,505.7 L448.5,507.6" stroke-width="1"/>
<path d="M448.5,507.5 L448.5,515.5 L477.5,515.5" stroke-width="1"/>
<circle cx="479.5" cy="515.5" r="2.0" class="t"/>
<text transform="translate(454.2,498.5) scale(1,1.19)">R17</text>
<text transform="translate(454.2,506.6) scale(1,1.19)">100k</text>
<text transform="translate(483.3,518.4) scale(1,1.19)" textLength="18.2" lengthAdjust="spacingAndGlyphs">3.3V</text>
<path d="M413.5,525.5 L458.5,525.5 L458.5,533.5" stroke-width="1"/>
<path d="M452.5,533.5 L465.5,533.5" stroke-width="1"/>
<path d="M452.5,536.5 L465.5,536.5" stroke-width="1"/>
<path d="M458.5,536.5 L458.5,545.5 L413.5,545.5" stroke-width="1"/>
<text transform="translate(468.2,533.6) scale(1,1.19)">C28</text>
<text transform="translate(468.2,542.4) scale(1,1.19)">0.1uF</text>
<path d="M413.5,564.5 L443.5,564.5 L443.5,572.5" stroke-width="1"/>
<path d="M437.5,572.5 L450.5,572.5" stroke-width="1"/>
<path d="M437.5,575.5 L450.5,575.5" stroke-width="1"/>
<path d="M443.5,575.5 L443.5,584.5" stroke-width="1"/>
<path d="M437.5,584.5 L450.5,584.5" stroke-width="1"/>
<path d="M439.5,586.5 L448.5,586.5" stroke-width="1"/>
<path d="M441.5,588.5 L445.5,588.5" stroke-width="1"/>
<text transform="translate(452.9,574.0) scale(1,1.19)">C29</text>
<text transform="translate(452.9,581.8) scale(1,1.19)">1uF</text>
</svg>
</body></html>
